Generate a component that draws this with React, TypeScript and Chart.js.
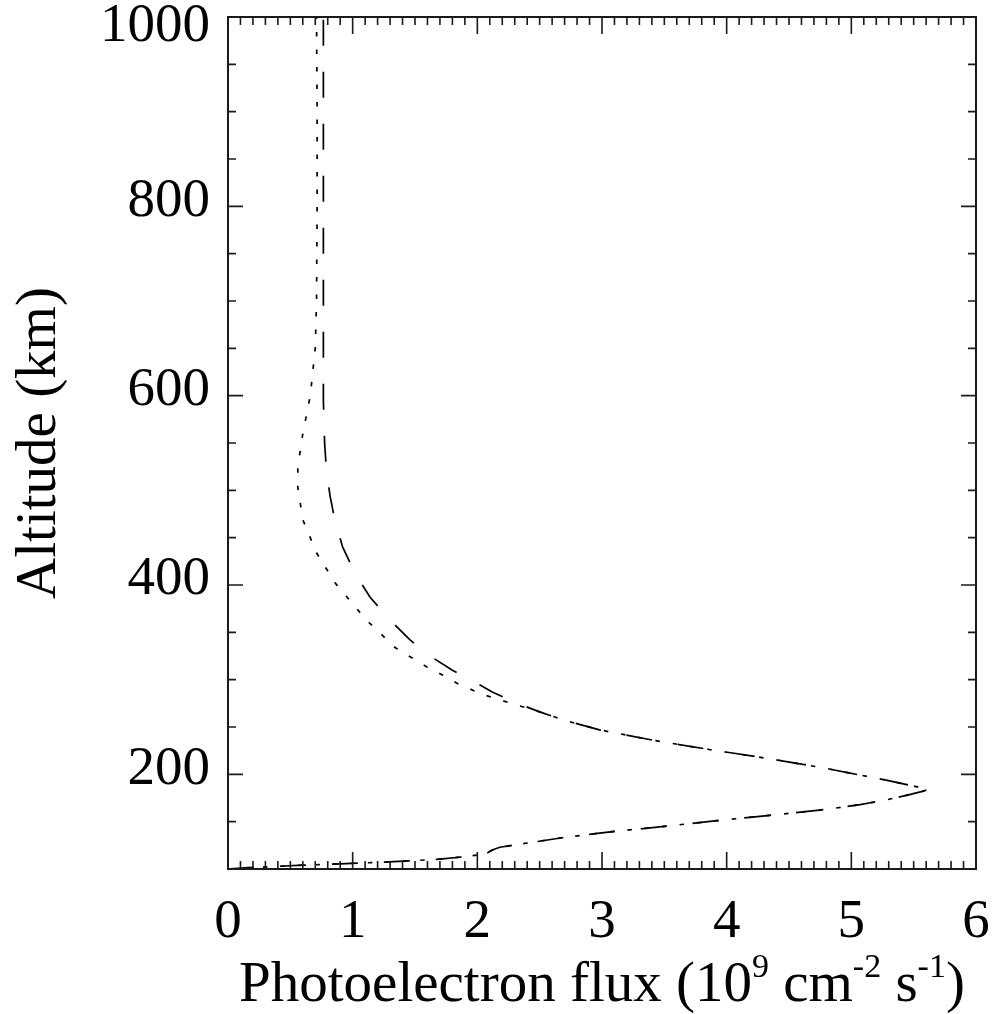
import React, { useEffect, useRef } from 'react';
import { Chart, registerables } from 'chart.js';

Chart.register(...registerables);

// Dotted curve: altitude (km) and photoelectron flux (10^9 cm^-2 s^-1)
const dottedAltitude = [
  100, 101, 102.5, 104, 105.5, 107, 108.5, 110.5, 113, 115, 117, 120, 123, 127, 133, 139, 145, 151, 157, 163,
  168, 173, 178, 182, 184, 187, 191, 196, 201, 207, 217, 226, 236, 247, 257, 266,
  275, 285, 296, 305, 313, 334, 363, 402, 434, 469, 503, 525, 560, 600, 650, 700, 800, 900, 1000,
];
const dottedFlux = [
  0.0, 0.1, 0.35, 0.6, 0.9, 1.2, 1.45, 1.7, 1.9, 2.02, 2.08, 2.12, 2.18, 2.38, 2.68, 3.05, 3.5, 3.92, 4.37, 4.8,
  5.07, 5.28, 5.45, 5.57, 5.62, 5.52, 5.38, 5.2, 5.0, 4.77, 4.32, 3.87, 3.41, 2.98, 2.7, 2.5,
  2.27, 2.03, 1.84, 1.72, 1.6, 1.34, 1.11, 0.86, 0.71, 0.6, 0.56, 0.56, 0.6, 0.66, 0.7, 0.71, 0.715, 0.715, 0.71,
];

// Dashed curve
const dashedAltitude = [
  100, 101, 102.5, 104, 105.5, 107, 108.5, 110.5, 113, 115, 117, 120, 123, 127, 133, 139, 145, 151, 157, 163,
  168, 173, 178, 182, 184, 187, 191, 196, 201, 207, 217, 226, 236, 247, 257, 266,
  276, 287, 298, 310, 325, 342, 363, 387, 412, 440, 467, 493, 520, 550, 595, 700, 800, 900, 1000,
];
const dashedFlux = [
  0.0, 0.1, 0.35, 0.6, 0.9, 1.2, 1.45, 1.7, 1.9, 2.02, 2.08, 2.12, 2.18, 2.38, 2.68, 3.05, 3.5, 3.92, 4.37, 4.8,
  5.07, 5.28, 5.45, 5.57, 5.62, 5.52, 5.38, 5.2, 5.0, 4.77, 4.32, 3.87, 3.41, 2.98, 2.7, 2.5,
  2.3, 2.12, 1.97, 1.8, 1.62, 1.46, 1.3, 1.14, 1.02, 0.92, 0.86, 0.82, 0.79, 0.775, 0.765, 0.765, 0.765, 0.765, 0.765,
];

const xTickValues = [0, 1, 2, 3, 4, 5, 6];
const yTickValues = [200, 400, 600, 800, 1000];
const yAxisTitle = 'Altitude (km)';
const xTitleParts = [
  { text: 'Photoelectron flux (10', sup: false },
  { text: '9', sup: true },
  { text: ' cm', sup: false },
  { text: '-2', sup: true },
  { text: ' s', sup: false },
  { text: '-1', sup: true },
  { text: ')', sup: false },
];

const FAMILY = "'Liberation Serif', 'Times New Roman', Times, serif";

const frameTicksPlugin = {
  id: 'frameTicks',
  beforeDraw(chart: any) {
    // nudge y tick labels: the top label sits just inside the canvas
    const ys = chart.scales.y;
    const items = ys.getLabelItems();
    items.forEach((it: any) => {
      if (it._nudged) return;
      const t = it.options.translation;
      t[1] += it.label === '1000' ? 10 : -5;
      it._nudged = true;
    });
  },
  afterDatasetsDraw(chart: any) {
    const { ctx, chartArea, scales } = chart;
    const { left, right, top, bottom } = chartArea;
    const x = scales.x;
    const y = scales.y;
    ctx.save();
    ctx.strokeStyle = '#1a1a1a';
    ctx.lineWidth = 1.6;
    ctx.beginPath();
    for (let i = 0; i <= 60; i++) {
      const px = x.getPixelForValue(i / 10);
      const len = i % 10 === 0 ? 17 : 8;
      ctx.moveTo(px, bottom);
      ctx.lineTo(px, bottom - len);
      ctx.moveTo(px, top);
      ctx.lineTo(px, top + len);
    }
    for (let v = 100; v <= 1000; v += 50) {
      const py = y.getPixelForValue(v);
      const len = v % 200 === 0 ? 15 : 8;
      ctx.moveTo(left, py);
      ctx.lineTo(left + len, py);
      ctx.moveTo(right, py);
      ctx.lineTo(right - len, py);
    }
    ctx.stroke();
    ctx.lineWidth = 2;
    ctx.strokeRect(left, top, right - left, bottom - top);

    // x-axis title with superscripts
    const bigFont = `57px ${FAMILY}`;
    const smallFont = `34px ${FAMILY}`;
    let total = 0;
    const widths = xTitleParts.map((p) => {
      ctx.font = p.sup ? smallFont : bigFont;
      const w = ctx.measureText(p.text).width;
      total += w;
      return w;
    });
    const cx = (left + right) / 2;
    let xpos = cx - total / 2;
    const baseline = 1001;
    ctx.fillStyle = '#000';
    ctx.textBaseline = 'alphabetic';
    ctx.textAlign = 'left';
    xTitleParts.forEach((p, i) => {
      ctx.font = p.sup ? smallFont : bigFont;
      ctx.fillText(p.text, xpos, p.sup ? baseline - 24 : baseline);
      xpos += widths[i];
    });
    ctx.restore();
  },
};

export default function App() {
  const canvasRef = useRef<HTMLCanvasElement | null>(null);

  useEffect(() => {
    const canvas = canvasRef.current;
    if (!canvas) return;
    const dotted = dottedAltitude.map((a, i) => ({ x: dottedFlux[i], y: a }));
    const dashed = dashedAltitude.map((a, i) => ({ x: dashedFlux[i], y: a }));
    const chart = new Chart(canvas, {
      type: 'scatter',
      data: {
        datasets: [
          {
            data: dotted,
            showLine: true,
            borderColor: '#000',
            borderWidth: 1.7,
            borderDash: [4.5, 13],
            pointRadius: 0,
            tension: 0,
            fill: false,
          },
          {
            data: dashed,
            showLine: true,
            borderColor: '#000',
            borderWidth: 1.7,
            borderDash: [26, 26],
            pointRadius: 0,
            tension: 0,
            fill: false,
          },
        ],
      },
      options: {
        responsive: false,
        animation: false,
        devicePixelRatio: 1,
        layout: { padding: 0 },
        plugins: { legend: { display: false }, tooltip: { enabled: false } },
        scales: {
          x: {
            type: 'linear',
            min: 0,
            max: 6,
            grid: { display: false, drawTicks: false },
            border: { display: false },
            afterBuildTicks: (s: any) => {
              s.ticks = xTickValues.map((v) => ({ value: v }));
            },
            afterFit: (s: any) => {
              s.height = 145;
              s.paddingLeft = 0;
              s.paddingRight = 18;
            },
            ticks: {
              font: { family: FAMILY, size: 55 },
              color: '#000',
              padding: 21,
              maxRotation: 0,
              autoSkip: false,
              callback: (v: any) => String(v),
            },
          },
          y: {
            type: 'linear',
            min: 100,
            max: 1000,
            grid: { display: false, drawTicks: false },
            border: { display: false },
            afterBuildTicks: (s: any) => {
              s.ticks = yTickValues.map((v) => ({ value: v }));
            },
            afterFit: (s: any) => {
              s.width = 228;
              s.paddingTop = 17;
              s.paddingBottom = 0;
            },
            ticks: {
              font: { family: FAMILY, size: 55 },
              color: '#000',
              padding: 18,
              autoSkip: false,
              callback: (v: any) => String(v),
            },
            title: {
              display: true,
              text: yAxisTitle,
              font: { family: FAMILY, size: 57 },
              color: '#000',
              padding: { top: 6, bottom: 0 },
            },
          },
        },
      },
      plugins: [frameTicksPlugin],
    });
    return () => chart.destroy();
  }, []);

  return (
    <div style={{ position: 'fixed', left: 0, top: 0, width: 994, height: 1014, background: '#fff' }}>
      <canvas ref={canvasRef} width={994} height={1014} style={{ width: 994, height: 1014, display: 'block' }} />
    </div>
  );
}
